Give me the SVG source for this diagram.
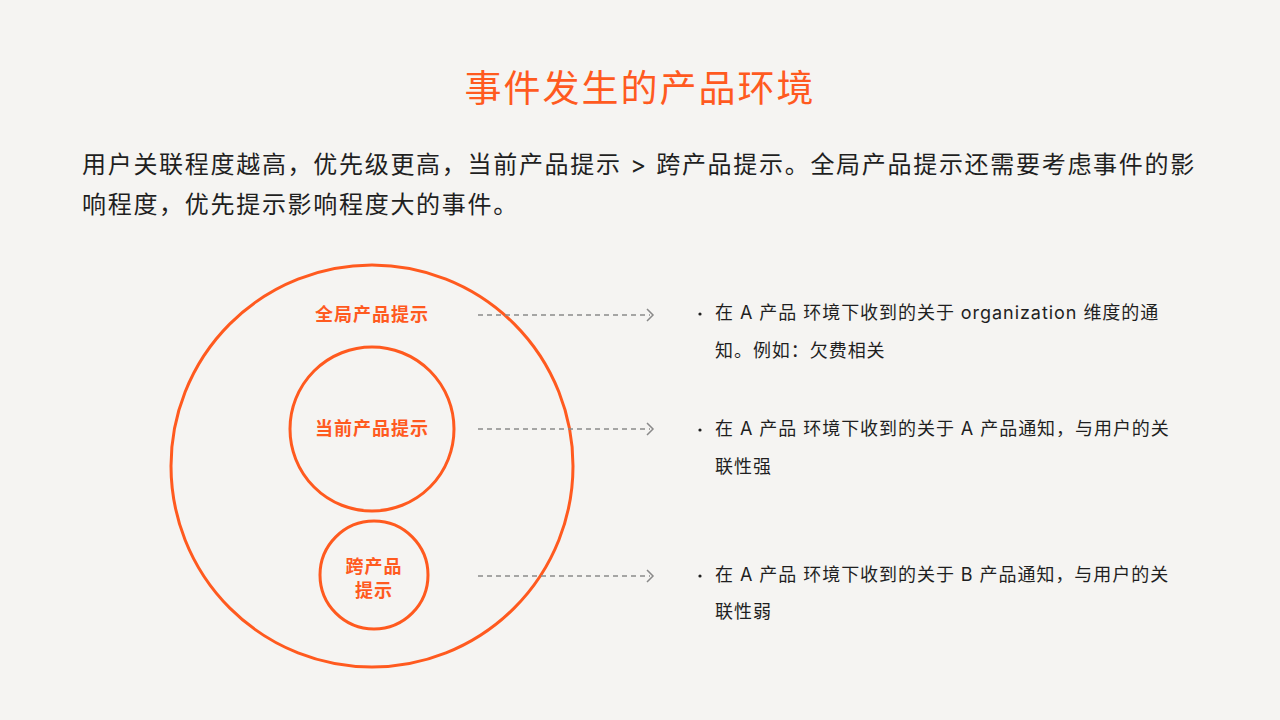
<svg xmlns="http://www.w3.org/2000/svg" width="1280" height="720" viewBox="0 0 1280 720">
<defs>
<style>
.title{font-family:"Noto Sans CJK SC","Noto Sans",sans-serif;font-size:37px;fill:#FF5A1F;letter-spacing:2px}
.para{font-family:Inter,"Noto Sans CJK SC",sans-serif;font-size:24px;fill:#1F1F1F;letter-spacing:1.7px}
.lbl{font-family:"Noto Sans CJK SC","Noto Sans",sans-serif;font-size:18px;font-weight:bold;fill:#FF5A1F;text-anchor:middle;letter-spacing:1px}
.bul{font-family:Inter,"Noto Sans CJK SC",sans-serif;font-size:18px;fill:#1F1F1F;letter-spacing:0.95px}
.ring{fill:none;stroke:#FF5A1F;stroke-width:3}
.conn{fill:none;stroke:#8A8A8A;stroke-width:1.3;stroke-dasharray:5 4}
.head{fill:none;stroke:#8A8A8A;stroke-width:1.5}
</style>
</defs>
<rect width="1280" height="720" fill="#F5F4F2"/>
<text class="title" x="640" y="102" text-anchor="middle">事件发生的产品环境</text>
<text class="para" x="82" y="173">用户关联程度越高，优先级更高，当前产品提示 &gt; 跨产品提示。全局产品提示还需要考虑事件的影</text>
<text class="para" x="82" y="213">响程度，优先提示影响程度大的事件。</text>

<g id="global">
<circle class="ring" cx="372" cy="466" r="201"/>
<text class="lbl" x="372" y="321">全局产品提示</text>
</g>
<g id="current">
<circle class="ring" cx="372" cy="429" r="82"/>
<text class="lbl" x="372" y="435">当前产品提示</text>
</g>
<g id="cross">
<circle class="ring" cx="374" cy="575" r="54"/>
<text class="lbl" x="374" y="573">跨产品</text>
<text class="lbl" x="374" y="597">提示</text>
</g>

<g id="connectors">
<line class="conn" x1="478" y1="315" x2="650" y2="315"/>
<polyline class="head" points="647,309 653,315 647,321"/>
<line class="conn" x1="478" y1="429" x2="650" y2="429"/>
<polyline class="head" points="647,423 653,429 647,435"/>
<line class="conn" x1="478" y1="576" x2="650" y2="576"/>
<polyline class="head" points="647,570 653,576 647,582"/>
</g>

<g id="desc1">
<circle cx="700" cy="314" r="1.6" fill="#1F1F1F"/>
<text class="bul" x="715" y="319">在 A 产品 环境下收到的关于 organization 维度的通</text>
<text class="bul" x="715" y="357">知。例如：欠费相关</text>
</g>
<g id="desc2">
<circle cx="700" cy="430" r="1.6" fill="#1F1F1F"/>
<text class="bul" x="715" y="435">在 A 产品 环境下收到的关于 A 产品通知，与用户的关</text>
<text class="bul" x="715" y="473">联性强</text>
</g>
<g id="desc3">
<circle cx="700" cy="576" r="1.6" fill="#1F1F1F"/>
<text class="bul" x="715" y="581">在 A 产品 环境下收到的关于 B 产品通知，与用户的关</text>
<text class="bul" x="715" y="618">联性弱</text>
</g>
</svg>
